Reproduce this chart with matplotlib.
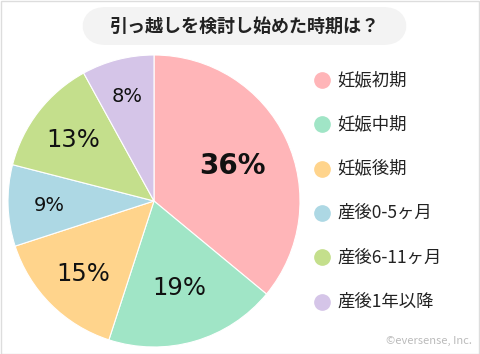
import matplotlib
matplotlib.use("Agg")
import matplotlib.pyplot as plt
from matplotlib.patches import FancyBboxPatch, Rectangle
import matplotlib.transforms as mtransforms
import numpy as np

plt.rcParams['font.family'] = ['Noto Sans CJK JP', 'DejaVu Sans']

title = "引っ越しを検討し始めた時期は？"
categories = ["妊娠初期", "妊娠中期", "妊娠後期", "産後0-5ヶ月", "産後6-11ヶ月", "産後1年以降"]
values = [36, 19, 15, 9, 13, 8]
colors = ["#FFB5B8", "#A0E5C6", "#FFD48C", "#ADD8E4", "#C4DF8C", "#D5C5E8"]
label_sizes = [20, 17.5, 17.5, 14, 17.5, 14]
label_weights = ["bold", "normal", "normal", "normal", "normal", "normal"]
label_dist = [0.59, 0.61, 0.69, 0.716, 0.70, 0.75]
footer = "©eversense, Inc."

W, H = 480, 354
fig = plt.figure(figsize=(W / 100, H / 100), dpi=100)

# pie axes: center (154, 201), radius 146 px
cx, cy, r = 154, 201, 146
ax = fig.add_axes([(cx - r) / W, 1 - (cy + r) / H, 2 * r / W, 2 * r / H])
wedges, _ = ax.pie(values, colors=colors, startangle=90, counterclock=False,
                   wedgeprops=dict(linewidth=0.8, edgecolor="white"))
ax.set_xlim(-1, 1)
ax.set_ylim(-1, 1)
ax.set_aspect("equal")
ax.axis("off")

for w, v, fs, fw, d in zip(wedges, values, label_sizes, label_weights, label_dist):
    ang = np.deg2rad((w.theta1 + w.theta2) / 2)
    # put digit centre at anchor: shift baseline down by half cap-height
    tr = mtransforms.offset_copy(ax.transData, fig=fig, x=0, y=-0.365 * fs, units="points")
    ax.text(d * np.cos(ang), d * np.sin(ang), f"{v}%", ha="center", va="baseline",
            fontsize=fs, fontweight=fw, color="#111111", family="DejaVu Sans",
            transform=tr)

# title pill
x0, x1, y0, y1 = 82, 407, 7, 45
fig.patches.append(FancyBboxPatch((x0 / W, 1 - y1 / H), (x1 - x0) / W, (y1 - y0) / H,
                                  boxstyle="round,pad=0,rounding_size=0.05",
                                  transform=fig.transFigure, facecolor="#F3F3F3",
                                  edgecolor="none", mutation_aspect=W / H))
fig.text((x0 + x1) / 2 / W, 1 - 26 / H, title, ha="center", va="center",
         fontsize=13, fontweight="bold", color="#222222")

# legend
ly0, lstep = 80, 44.3
for i, (c, lab) in enumerate(zip(colors, categories)):
    y = 1 - (ly0 + i * lstep) / H
    fig.lines.append(plt.Line2D([322 / W], [y], marker="o", markersize=11,
                                color=c, linestyle="none", transform=fig.transFigure))
    fig.text(337 / W, y, lab, ha="left", va="center", fontsize=12.5, color="#222222")

fig.text(472 / W, 1 - 341 / H, footer, ha="right", va="center", fontsize=8, color="#BBBBBB")

# frame
fig.patches.append(Rectangle((0.5 / W, 0.5 / H), (W - 1.5) / W, (H - 1.5) / H,
                             transform=fig.transFigure, fill=False,
                             edgecolor="#DDDDDD", linewidth=1))

fig.savefig("out.png", dpi=100)
